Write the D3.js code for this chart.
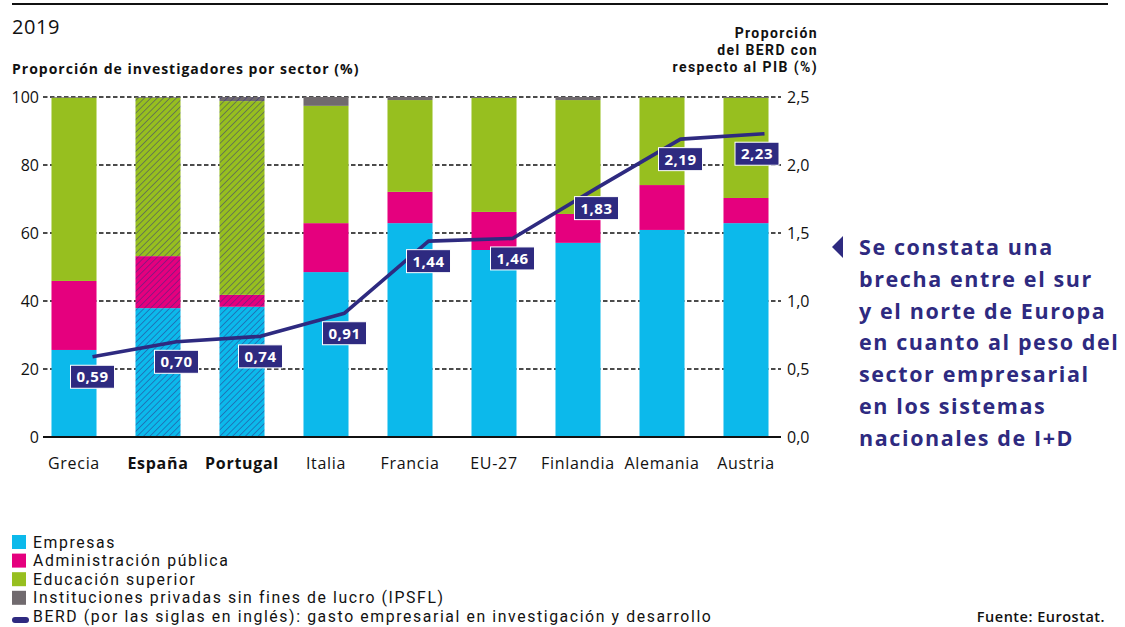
<!DOCTYPE html>
<html><head><meta charset="utf-8">
<script src="https://cdn.jsdelivr.net/npm/d3@7"></script>
<style>
html,body{margin:0;padding:0;background:#fff;}
svg{display:block;font-family:"Open Sans","Liberation Sans",sans-serif;}
</style></head>
<body>
<svg id="chart" width="1125" height="627"></svg>
<script>
// ---- data ----
const countries = ["Grecia","España","Portugal","Italia","Francia","EU-27","Finlandia","Alemania","Austria"];
const highlighted = ["España","Portugal"];
const empresas      = [25.6, 37.9, 38.3, 48.5, 62.9, 55.0, 57.1, 60.9, 62.9];
const administracion= [20.3, 15.3,  3.5, 14.4,  9.2, 11.2,  8.5, 13.2,  7.4];
const educacion     = [53.9, 46.6, 57.0, 34.5, 27.0, 33.5, 33.5, 25.8, 29.4];
const ipsfl         = [ 0.2,  0.2,  1.2,  2.6,  0.9,  0.3,  0.9,  0.1,  0.3];
const berd          = [0.59, 0.70, 0.74, 0.91, 1.44, 1.46, 1.83, 2.19, 2.23];
const leftTicks  = [0, 20, 40, 60, 80, 100];
const rightTicks = [0, 0.5, 1.0, 1.5, 2.0, 2.5];
const seriesNames = ["Empresas","Administración pública","Educación superior","Instituciones privadas sin fines de lucro (IPSFL)"];
const lineName = "BERD (por las siglas en inglés): gasto empresarial en investigación y desarrollo";
const annotation = ["Se constata una","brecha entre el sur","y el norte de Europa","en cuanto al peso del","sector empresarial","en los sistemas","nacionales de I+D"];

// ---- style ----
const colors = ["#0cb9eb","#e5007e","#97bf1f","#706a6e"];
const navy = "#2e2a80";

const svg = d3.select("#chart");
const fmt = d => d3.format(".2f")(d).replace(".", ",");
const fmt1 = d => d3.format(".1f")(d).replace(".", ",");

const x = d3.scaleBand().domain(countries).range([32, 788]).paddingInner(0.464).paddingOuter(0.232);
const y = d3.scaleLinear().domain([0, 100]).range([437, 97]);
const y2 = d3.scaleLinear().domain([0, 2.5]).range([437, 97]);

// patterns for hatched bars
const defs = svg.append("defs");
colors.forEach((c, i) => {
  const p = defs.append("pattern").attr("id", "hatch" + i)
    .attr("patternUnits", "userSpaceOnUse").attr("width", 4.5).attr("height", 4.5)
    .attr("patternTransform", "rotate(45)");
  p.append("rect").attr("width", 4.5).attr("height", 4.5).attr("fill", c);
  p.append("line").attr("x1", 0).attr("y1", 0).attr("x2", 0).attr("y2", 4.5)
    .attr("stroke", navy).attr("stroke-opacity", 0.6).attr("stroke-width", 1.5);
});

// top rule
svg.append("line").attr("x1", 12).attr("x2", 1108).attr("y1", 4).attr("y2", 4)
  .attr("stroke", "#111").attr("stroke-width", 2.2);

svg.append("text").attr("x", 12).attr("y", 34).text("2019")
  .attr("font-size", 20).attr("font-weight", 500).attr("letter-spacing", 0.6).attr("fill", "#111");
svg.append("text").attr("x", 12).attr("y", 74).text("Proporción de investigadores por sector (%)")
  .attr("font-size", 14).attr("font-weight", 700).attr("letter-spacing", 1).attr("fill", "#111");
["Proporción","del BERD con","respecto al PIB (%)"].forEach((t, i) => {
  svg.append("text").attr("x", 818).attr("y", 38 + i * 17).attr("text-anchor", "end")
    .attr("font-family", "Roboto, 'Liberation Sans', sans-serif")
    .text(t).attr("font-size", 14).attr("font-weight", 700).attr("letter-spacing", 1.4).attr("fill", "#111");
});

// gridlines
svg.append("g").selectAll("line").data(leftTicks.filter(d => d > 0)).join("line")
  .attr("x1", 43).attr("x2", 781).attr("y1", d => y(d)).attr("y2", d => y(d))
  .attr("stroke", "#111").attr("stroke-width", 1.3).attr("stroke-dasharray", "4.5,2.5");

// stacked bars
const table = countries.map((c, i) => ({country: c, s0: empresas[i], s1: administracion[i], s2: educacion[i], s3: ipsfl[i]}));
const stack = d3.stack().keys(["s0","s1","s2","s3"])(table);
svg.append("g").selectAll("g").data(stack).join("g")
  .each(function(layer, li) {
    d3.select(this).selectAll("rect").data(layer).join("rect")
      .attr("x", d => x(d.data.country))
      .attr("width", x.bandwidth())
      .attr("y", d => y(d[1]))
      .attr("height", d => y(d[0]) - y(d[1]))
      .attr("fill", d => highlighted.includes(d.data.country) ? `url(#hatch${li})` : colors[li]);
  });

// baseline
svg.append("line").attr("x1", 43).attr("x2", 781).attr("y1", y(0)).attr("y2", y(0))
  .attr("stroke", "#111").attr("stroke-width", 2);

// left axis labels
svg.append("g").selectAll("text").data(leftTicks).join("text")
  .attr("x", 39).attr("y", d => y(d)).attr("dy", "0.36em").attr("text-anchor", "end")
  .attr("font-size", 16).attr("font-weight", 500).attr("fill", "#111").text(d => d);
// right axis labels
svg.append("g").selectAll("text").data(rightTicks).join("text")
  .attr("x", 787).attr("y", d => y2(d)).attr("dy", "0.36em")
  .attr("font-size", 16).attr("font-weight", 500).attr("fill", "#111").text(d => fmt1(d));

// x labels
svg.append("g").selectAll("text").data(countries).join("text")
  .attr("x", d => x(d) + x.bandwidth() / 2).attr("y", 469).attr("text-anchor", "middle")
  .attr("font-size", 16).attr("letter-spacing", 0.7).attr("fill", "#111")
  .attr("font-weight", d => highlighted.includes(d) ? 700 : 500).text(d => d);

// BERD line
const lx = c => x(c) + x.bandwidth() - 4;
const pts = countries.map((c, i) => [lx(c), y2(berd[i])]);
svg.append("path").attr("d", d3.line()(pts)).attr("fill", "none")
  .attr("stroke", navy).attr("stroke-width", 3.6).attr("stroke-linejoin", "round");

// BERD labels
const lab = svg.append("g");
pts.forEach((p, i) => {
  const w = 44, h = 23;
  let cx = p[0];
  if (cx + w / 2 > 779) cx = 779 - w / 2;
  const cy = p[1] + 20;
  lab.append("rect").attr("x", cx - w / 2).attr("y", cy - h / 2).attr("width", w).attr("height", h)
    .attr("fill", navy).attr("stroke", "#fff").attr("stroke-width", 1);
  lab.append("text").attr("x", cx).attr("y", cy).attr("dy", "0.36em").attr("text-anchor", "middle")
    .attr("fill", "#fff").attr("font-size", 15).attr("font-weight", 700).attr("letter-spacing", 0.5).text(fmt(berd[i]));
});

// annotation
svg.append("path").attr("d", "M843,236 L843,258 L832,247 Z").attr("fill", navy);
const ann = svg.append("g");
annotation.forEach((t, i) => {
  ann.append("text").attr("x", 859).attr("y", 255 + i * 31.8).text(t)
    .attr("font-size", 21.5).attr("font-weight", 700).attr("letter-spacing", 1.6).attr("fill", navy);
});

// legend
const leg = svg.append("g").attr("font-family", "Roboto, 'Liberation Sans', sans-serif");
seriesNames.forEach((n, i) => {
  const cy = 542 + i * 18.6;
  leg.append("rect").attr("x", 12).attr("y", cy - 7).attr("width", 14).attr("height", 14).attr("fill", colors[i]);
  leg.append("text").attr("x", 33).attr("y", cy).attr("dy", "0.36em").attr("font-size", 15.8)
    .attr("letter-spacing", 1.6).attr("fill", "#111").text(n);
});
leg.append("rect").attr("x", 12).attr("y", 617).attr("width", 17).attr("height", 6).attr("rx", 3).attr("fill", navy);
leg.append("text").attr("x", 33).attr("y", 542 + 4 * 18.6).attr("dy", "0.36em").attr("font-size", 15.8)
  .attr("letter-spacing", 1.6).attr("fill", "#111").text(lineName);

svg.append("text").attr("x", 1105).attr("y", 622).attr("text-anchor", "end")
  .attr("font-size", 14.5).attr("font-weight", 600).attr("letter-spacing", 0.5).attr("fill", "#111").text("Fuente: Eurostat.");
</script>
</body></html>
